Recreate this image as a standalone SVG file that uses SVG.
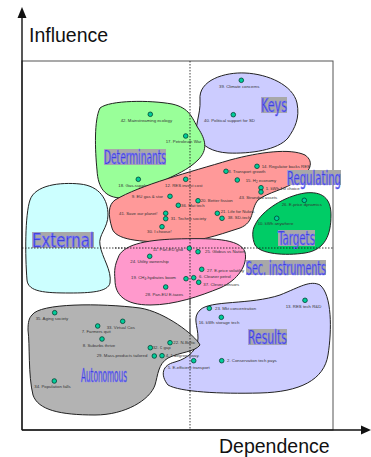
<svg xmlns="http://www.w3.org/2000/svg" width="371" height="457" viewBox="0 0 371 457">
<style>
.blob{stroke:#222;stroke-width:1}
.dot{fill:#00cc99;stroke:#043;stroke-width:0.8}
.lbl{font-family:"Liberation Sans",Arial,sans-serif;font-size:4.3px;fill:#333}
.tbox{fill:#a8a8a8}
.title{font-family:"DejaVu Sans Condensed","DejaVu Sans",sans-serif;font-size:20px;fill:#3030c8;stroke:#7a7aff;stroke-width:0.7}
.axis{font-family:"Liberation Sans",Arial,sans-serif;font-size:19.5px;fill:#111}
.sub{font-size:3px}
.dotted{stroke:#111;stroke-width:0.8;stroke-dasharray:1.5,1.5}
</style>
<rect width="371" height="457" fill="#fff"/>
<g id="frame">
<rect x="22" y="61" width="311" height="369" fill="none" stroke="#555" stroke-width="1"/>
</g>
<g id="connectors"></g>

<g id="keys">
<path class="blob" fill="#ccccff" d="M200,100 C198,80 225,72 245,73 C268,74 293,85 297,103 C300,118 295,128 288,138 C278,150 250,154 228,153 C212,152 203,146 198,138 C193,128 201,115 200,100 Z"/>
<g id="n39"><circle class="dot" cx="241.3" cy="80.3" r="2.3"/><text class="lbl" x="219" y="87.5">39. Climate concerns</text></g>
<g id="n40"><circle class="dot" cx="233.3" cy="114.7" r="2.3"/><text class="lbl" x="204" y="122">40. Political support for SD</text></g>
<rect class="tbox" x="261" y="97" width="26" height="16"/>
<text class="title" x="261" y="112" textLength="26" lengthAdjust="spacingAndGlyphs">Keys</text>
</g>

<g id="determinants">
<path class="blob" fill="#99ff99" d="M100,108 C110,100 150,100 172,104 C190,108 192,118 198,128 C206,140 208,150 198,160 C188,170 175,175 165,180 C150,188 140,198 122,198 C105,198 98,188 97,170 C95,150 94,120 100,108 Z"/>
<g id="n42"><circle class="dot" cx="150.3" cy="114.3" r="2.3"/><text class="lbl" x="120.7" y="122">42. Mainstreaming ecology</text></g>
<g id="n17"><circle class="dot" cx="185.7" cy="136" r="2.3"/><text class="lbl" x="165.7" y="143">17. Petroleum War</text></g>
<g id="n18"><circle class="dot" cx="138.3" cy="179.3" r="2.3"/><text class="lbl" x="118.3" y="186.5">18. Gas-supply risk</text></g>
<rect class="tbox" x="104" y="149" width="62" height="16"/>
<text class="title" x="104" y="164" textLength="62" lengthAdjust="spacingAndGlyphs">Determinants</text>
</g>

<g id="external">
<path class="blob" fill="#ccffff" d="M30,200 C35,185 60,182 80,184 C100,186 108,200 108,215 C108,228 98,235 100,245 C102,258 112,270 110,283 C108,292 90,293 70,293 C45,293 28,292 27,280 C25,255 25,215 30,200 Z"/>
<rect class="tbox" x="32" y="232" width="62" height="16"/>
<text class="title" x="32" y="247" textLength="62" lengthAdjust="spacingAndGlyphs">External</text>
</g>

<g id="regulating">
<path class="blob" fill="#ff9999" d="M115,200 C140,185 190,172 230,160 C260,152 290,148 305,155 C315,162 310,172 298,180 C285,190 268,192 258,200 C250,210 255,222 240,228 C215,236 200,242 170,242 C140,242 115,240 112,228 C108,215 108,205 115,200 Z"/>
<g id="n12"><circle class="dot" cx="185.7" cy="179.3" r="2.3"/><text class="lbl" x="165" y="187">12. RES invest cost</text></g>
<g id="n14"><circle class="dot" cx="257" cy="166.3" r="2.3"/><text class="lbl" x="261.7" y="168">14. Regulator backs RES</text></g>
<g id="n3"><circle class="dot" cx="226" cy="171.3" r="2.3"/><text class="lbl" x="228.3" y="173.3">3. Transport growth</text></g>
<g id="n15"><circle class="dot" cx="237.3" cy="180" r="2.3"/><text class="lbl" x="245.7" y="181.7">15. H<tspan class="sub" dy="1">2</tspan><tspan dy="-1"> economy</tspan></text></g>
<g id="n1"><circle class="dot" cx="261" cy="187.7" r="2.3"/><text class="lbl" x="265.7" y="189.5">1. kWh 1st choice</text></g>
<g id="n43"><circle class="dot" cx="261" cy="192" r="2.3"/><text class="lbl" x="239" y="199.3">43. Stranded assets</text></g>
<g id="n9"><circle class="dot" cx="170" cy="196.3" r="2.3"/><text class="lbl" x="131.7" y="198.3">9. EU gas &amp; stor</text></g>
<g id="n20"><circle class="dot" cx="198" cy="200.7" r="2.3"/><text class="lbl" x="200.7" y="202.3">20. Better fission</text></g>
<g id="n36"><circle class="dot" cx="178.3" cy="205.3" r="2.3"/><text class="lbl" x="181" y="206.7">36. Mat tech</text></g>
<g id="n41"><circle class="dot" cx="165.7" cy="213.3" r="2.3"/><text class="lbl" x="119" y="215.3">41. Save our planet!</text></g>
<g id="n31"><circle class="dot" cx="165.7" cy="218.7" r="2.3"/><text class="lbl" x="170.7" y="220.3">31. Techno society</text></g>
<g id="n21"><circle class="dot" cx="217.3" cy="213.3" r="2.3"/><text class="lbl" x="220.7" y="213.3">21. Life for Nukes</text></g>
<g id="n38"><circle class="dot" cx="222" cy="218.3" r="2.3"/><text class="lbl" x="227.7" y="219.3">38. SD-tech</text></g>
<g id="n30"><circle class="dot" cx="162" cy="226.7" r="2.3"/><text class="lbl" x="147" y="233.3">30. I choose!</text></g>
<rect class="tbox" x="287" y="170" width="54" height="15"/>
<text class="title" x="287" y="184.5" textLength="54" lengthAdjust="spacingAndGlyphs">Regulating</text>
</g>

<g id="targets">
<path class="blob" fill="#00cc66" d="M255,225 C262,210 285,196 305,193 C322,191 331,198 331,215 C331,235 325,250 305,253 C285,256 260,254 255,245 C252,238 252,230 255,225 Z"/>
<g id="n26"><circle class="dot" cx="304.3" cy="200.3" r="2.3"/><text class="lbl" x="281.7" y="206.3">26. E-price dynamics</text></g>
<g id="n10"><circle class="dot" cx="276.7" cy="218.3" r="2.3"/><text class="lbl" x="257.7" y="225.3">10. kWh anywhere</text></g>
<rect class="tbox" x="278" y="230" width="37" height="16"/>
<text class="title" x="278" y="245" textLength="37" lengthAdjust="spacingAndGlyphs">Targets</text>
</g>

<g id="axes-dotted">
<line class="dotted" x1="190" y1="61" x2="190" y2="430"/>
<line class="dotted" x1="22" y1="248" x2="333" y2="248"/>
</g>

<g id="sec-instruments">
<path class="blob" fill="#ff99cc" d="M118,258 C122,245 145,240 175,239 C210,238 240,238 245,252 C248,265 238,280 220,288 C200,296 175,305 150,305 C125,305 115,295 115,280 C114,270 115,265 118,258 Z"/>
<line class="dotted" x1="190" y1="239" x2="190" y2="305"/>
<line class="dotted" x1="115" y1="248" x2="247" y2="248"/>
<g id="n11"><circle class="dot" cx="189.3" cy="248.3" r="2.3"/><text class="lbl" x="152.7" y="251">11. Pan-EU grid</text></g>
<g id="n25"><circle class="dot" cx="198" cy="251.7" r="2.3"/><text class="lbl" x="205" y="253.3">25. Globus vs Nation</text></g>
<g id="n24"><circle class="dot" cx="149.7" cy="256.3" r="2.3"/><text class="lbl" x="130.3" y="263.3">24. Utility ownership</text></g>
<g id="n27"><circle class="dot" cx="201.7" cy="269.3" r="2.3"/><text class="lbl" x="207" y="272">27. E-price volatility</text></g>
<g id="n19"><circle class="dot" cx="186" cy="278.7" r="2.3"/><text class="lbl" x="131" y="279.3">19. CH<tspan class="sub" dy="1">4</tspan><tspan dy="-1">-hydrates boom</tspan></text></g>
<g id="n6"><circle class="dot" cx="193.7" cy="277.7" r="2.3"/><text class="lbl" x="199" y="278.3">6. Cleaner petrol</text></g>
<g id="n37"><circle class="dot" cx="198.7" cy="282.3" r="2.3"/><text class="lbl" x="203.3" y="286.3">37. Clever sensors</text></g>
<g id="n28"><circle class="dot" cx="165.7" cy="287" r="2.3"/><text class="lbl" x="145.3" y="296.3">28. Pan-EU E-taxes</text></g>
<rect class="tbox" x="246" y="260" width="80" height="15"/>
<text class="title" x="246" y="274.5" textLength="80" lengthAdjust="spacingAndGlyphs">Sec. instruments</text>
</g>

<g id="results">
<path class="blob" fill="#ccccff" d="M200,310 C210,300 250,305 280,295 C300,287 310,280 320,285 C332,295 332,330 328,355 C324,380 300,392 260,393 C220,394 180,392 168,385 C160,375 162,365 175,362 C190,358 198,348 198,338 C198,325 192,318 200,310 Z"/>
<line class="dotted" x1="190" y1="300" x2="190" y2="393"/>
<g id="n13"><circle class="dot" cx="305" cy="300.3" r="2.3"/><text class="lbl" x="285.7" y="308.3">13. RES tech R&amp;D</text></g>
<g id="n23"><circle class="dot" cx="209.3" cy="308.3" r="2.3"/><text class="lbl" x="215" y="310">23. Mkt concentration</text></g>
<g id="n16"><circle class="dot" cx="221.3" cy="317.3" r="2.3"/><text class="lbl" x="198.7" y="324.3">16. kWh storage tech</text></g>
<g id="n2"><circle class="dot" cx="221.7" cy="360.7" r="2.3"/><text class="lbl" x="227" y="362.3">2. Conservation tech pays</text></g>
<g id="n5"><circle class="dot" cx="193.7" cy="360.7" r="2.3"/><text class="lbl" x="167.7" y="369.3">5. E-efficient transport</text></g>
<rect class="tbox" x="248" y="329" width="39" height="16"/>
<text class="title" x="248" y="344" textLength="39" lengthAdjust="spacingAndGlyphs">Results</text>
</g>

<g id="autonomous">
<path class="blob" fill="#b3b3b3" d="M32,315 C40,303 100,303 140,308 C165,312 195,335 200,345 C195,352 180,352 168,358 C158,364 158,375 155,385 C150,400 125,415 95,415 C60,415 38,410 33,395 C28,375 30,345 28,330 C28,322 29,318 32,315 Z"/>
<line class="dotted" x1="190" y1="320" x2="190" y2="352"/>
<g id="n35"><circle class="dot" cx="54.7" cy="312.7" r="2.3"/><text class="lbl" x="35.7" y="320.3">35. Aging society</text></g>
<g id="n33"><circle class="dot" cx="122.7" cy="321.3" r="2.3"/><text class="lbl" x="106.7" y="329.3">33. Virtual Cos</text></g>
<g id="n7"><circle class="dot" cx="97.7" cy="326" r="2.3"/><text class="lbl" x="81.7" y="333.3">7. Farmers quit</text></g>
<g id="n8"><circle class="dot" cx="102" cy="339" r="2.3"/><text class="lbl" x="82.7" y="347.3">8. Suburbs thrive</text></g>
<g id="n22"><circle class="dot" cx="170" cy="342.7" r="2.3"/><text class="lbl" x="173.3" y="344">22. N-Baltic</text></g>
<g id="n32"><circle class="dot" cx="150.3" cy="347.7" r="2.3"/><text class="lbl" x="152.7" y="349.3">32. € gap</text></g>
<g id="n29"><circle class="dot" cx="154.3" cy="356" r="2.3"/><text class="lbl" x="96.7" y="357.3">29. Mass-products tailored</text></g>
<g id="n4"><circle class="dot" cx="162" cy="355.7" r="2.3"/><text class="lbl" x="165.7" y="357.3">4. 1 degree away.</text></g>
<g id="n34"><circle class="dot" cx="54.3" cy="381" r="2.3"/><text class="lbl" x="34.3" y="388.3">34. Population falls</text></g>
<text class="title" x="81" y="382" textLength="46" lengthAdjust="spacingAndGlyphs">Autonomous</text>
</g>

<g id="axes">
<line x1="22" y1="430" x2="22" y2="16" stroke="#111" stroke-width="1.4"/>
<polygon points="22,7 17.5,18 26.5,18" fill="#111"/>
<line x1="22" y1="430" x2="362" y2="430" stroke="#111" stroke-width="1.4"/>
<polygon points="371,430 361,425.5 361,434.5" fill="#111"/>
<text class="axis" x="29" y="42">Influence</text>
<text class="axis" x="219" y="453">Dependence</text>
</g>
</svg>
